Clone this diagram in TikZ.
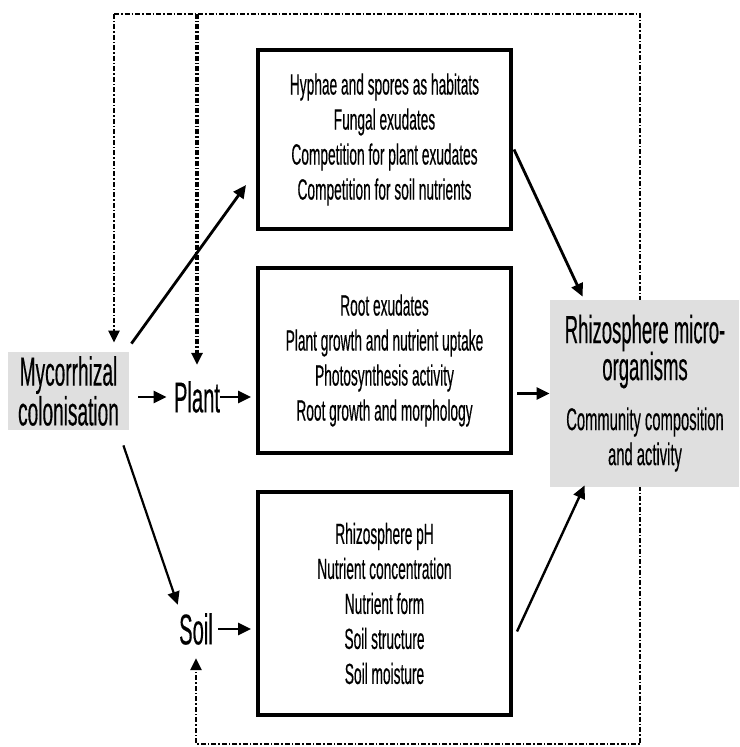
\documentclass[tikz,border=0pt]{standalone}
\usepackage{fontspec}
\setmainfont{Liberation Sans}[FakeStretch=0.47,FakeBold=0.3]
\usetikzlibrary{arrows.meta,calc}

\begin{document}
\begin{tikzpicture}[x=0.5pt,y=-0.5pt,
  box/.style={draw,line width=2pt,minimum width=126.5pt,align=center,inner sep=0pt,
    font=\fontsize{14.6}{17.5}\selectfont},
  greybox/.style={fill=gray!25,inner sep=0pt,align=center},
  lbl/.style={inner sep=0pt,font=\fontsize{21.5}{22}\selectfont},
  arr/.style={line width=1.4pt,-{Triangle[length=6.5pt,width=6pt]}},
  fb/.style={line width=1.2pt,dash pattern=on 2.5pt off 1pt on 0.75pt off 1pt,
    -{Triangle[length=6pt,width=5.5pt]}}]
  \useasboundingbox (0,0) rectangle (739,747);
  % left column
  \node[greybox,minimum width=60.5pt,minimum height=39pt,
       font=\fontsize{20.3}{15.5}\selectfont] (myc) at (68.5,391)
       {Mycorrhizal\\colonisation};
  \node[lbl] (plant) at (197,397) {Plant};
  \node[lbl] (soil) at (196,629) {Soil};
  % middle boxes
  \node[box,minimum height=89.5pt] (hyph) at (384.5,139.5)
       {Hyphae and spores as habitats\\Fungal exudates\\
        Competition for plant exudates\\Competition for soil nutrients};
  \node[box,minimum height=92.5pt] (roots) at (384.5,360.5)
       {Root exudates\\Plant growth and nutrient uptake\\
        Photosynthesis activity\\Root growth and morphology};
  \node[box,minimum height=111.5pt] (soilbx) at (384.5,603.5)
       {Rhizosphere pH\\Nutrient concentration\\Nutrient form\\
        Soil structure\\Soil moisture};
  % feedback loop
  \coordinate (tl) at (114,14);
  \coordinate (tr) at (640,14);
  \coordinate (br) at (640,744);
  \coordinate (tm) at (plant |- tl);
  \coordinate (bl) at (soil |- br);
  \draw[fb,shorten >=6.5pt] (tl) -- (tr) -- (br) -- (bl) -- (soil.south);
  \draw[fb,shorten >=4.5pt] (tl) -- (myc.north -| tl);
  \draw[fb,line width=1.7pt,shorten >=8pt] (tm) -- (plant.north);
  % right box
  \node[greybox,minimum width=94.5pt,minimum height=93.5pt] (rhizo) at (644.5,393.5) {};
  \node[inner sep=0pt,align=center,font=\fontsize{19.7}{18.5}\selectfont]
       (rhizotitle) at (645,351.5) {Rhizosphere micro-\\organisms};
  \node[inner sep=0pt,align=center,font=\fontsize{15.7}{17.5}\selectfont]
       (rhizosub) at (645,439.5) {Community composition\\and activity};
  % arrows
  \draw[arr] ([shift={(1pt,4pt)}]myc.north east) -- ([shift={(-5pt,23pt)}]hyph.south west);
  \draw[arr,line width=1.1pt] ([shift={(-3pt,-7.5pt)}]myc.south east)
       -- ([shift={(-0.5pt,4pt)}]soil.north west);
  \draw[arr,shorten <=4.5pt,shorten >=3.5pt] (myc.east |- plant) -- (plant.west);
  \draw[arr,shorten >=2.5pt] (plant.east) -- (plant -| roots.west);
  \draw[arr,shorten <=2.5pt,shorten >=2.5pt] (soil.east) -- (soil -| soilbx.west);
  \draw[arr] ([shift={(0.5pt,-5pt)}]hyph.east) -- ([shift={(16.5pt,1.5pt)}]rhizo.north west);
  \draw[arr,shorten <=2pt] (roots.east |- rhizo) -- (rhizo.west);
  \draw[arr,line width=1.2pt] ([shift={(2pt,-14pt)}]soilbx.east)
       -- ([shift={(17.5pt,1pt)}]rhizo.south west);
\end{tikzpicture}
\end{document}
